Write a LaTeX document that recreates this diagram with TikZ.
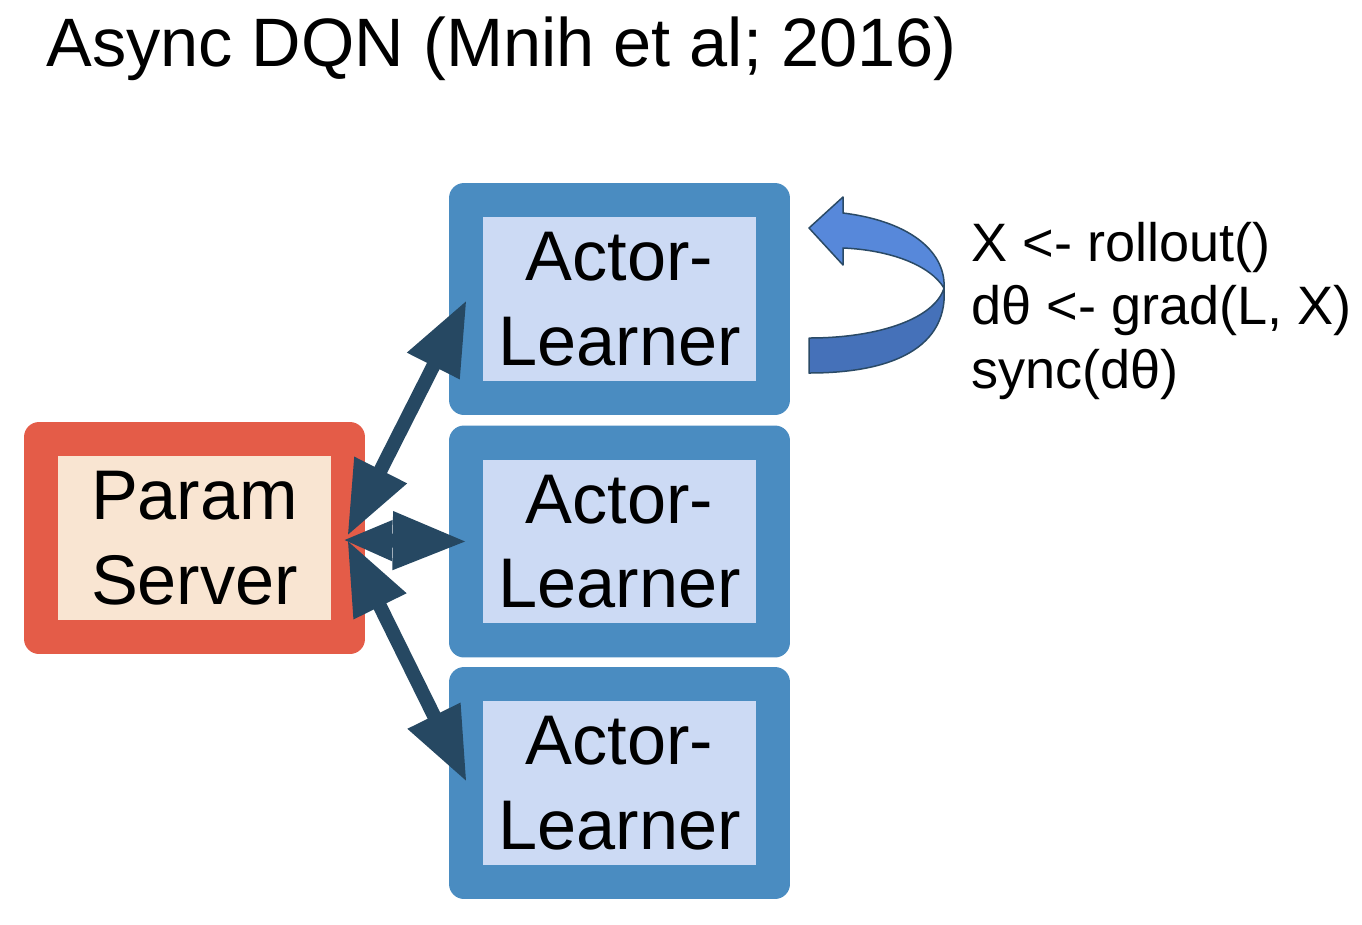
\documentclass[tikz,border=0pt]{standalone}
\usepackage{fontspec}
\setmainfont{Liberation Sans}
\usetikzlibrary{arrows.meta,calc}

\definecolor{psred}{HTML}{E45C48}
\definecolor{psfill}{HTML}{F9E5D2}
\definecolor{alblue}{HTML}{4A8CC1}
\definecolor{alfill}{HTML}{CCDAF4}
\definecolor{linkcol}{HTML}{264862}
\definecolor{looptop}{HTML}{5788DA}
\definecolor{loopbot}{HTML}{4571B9}
\definecolor{loopline}{HTML}{2A4A66}

\tikzset{
  outerbox/.style={rounded corners=0.3cm, minimum width=6.82cm, minimum height=4.64cm, inner sep=0pt},
  innerbox/.style={minimum width=5.45cm, minimum height=3.27cm, inner sep=0pt, align=center,
    font=\fontsize{40}{48}\selectfont},
  link/.style={linkcol, line width=0.28cm,
    {Triangle[length=1.48cm,width=1.1cm]}-{Triangle[length=1.48cm,width=1.1cm]}},
  shortlink/.style={linkcol, line width=0.28cm,
    {Triangle[length=1.0cm,width=0.74cm]}-{Triangle[length=1.48cm,width=1.1cm]}},
  loopline/.style={draw=loopline, line width=0.03cm, line join=round}
}

\begin{document}
\begin{tikzpicture}[x=0.02cm,y=-0.02cm]
\useasboundingbox (0,0) rectangle (1362,924);

% title
\node[anchor=base west, inner sep=0pt, font=\fontsize{39}{44}\selectfont] (title) at (46,66) {Async DQN (Mnih et al; 2016)};

% param server
\node[outerbox, fill=psred] (ps) at (194.5,538) {};
\node[innerbox, fill=psfill] (psin) at (ps) {Param\\Server};

% actor-learners
\node[outerbox, fill=alblue] (al1) at (619.5,299) {};
\node[innerbox, fill=alfill] (al1in) at (al1) {Actor-\\Learner};

\node[outerbox, fill=alblue] (al2) at (619.5,541.5) {};
\node[innerbox, fill=alfill] (al2in) at (al2) {Actor-\\Learner};

\node[outerbox, fill=alblue] (al3) at (619.5,783) {};
\node[innerbox, fill=alfill] (al3in) at (al3) {Actor-\\Learner};

% links
\draw[link] ($(ps.east)+(-18,-2)$) -- ($(al1.west)+(18,1)$);
\draw[link] ($(ps.east)+(-18,2)$) -- ($(al3.west)+(18,-1)$);
\draw[shortlink] ($(ps.east)+(-23,2)$) -- ($(al2.west)+(18,0)$);

% loop arrow
\fill[loopbot] (944,288) .. controls (948,340) and (905,373) .. (809,373) -- (809,338)
  .. controls (880,338) and (935,318) .. (944,288) -- cycle;
\draw[loopline] (944,288) .. controls (948,340) and (905,373) .. (809,373) -- (809,338)
  .. controls (880,338) and (935,318) .. (944,288);
\filldraw[loopline, fill=looptop] (843,213) .. controls (915,222) and (946,255) .. (944,288)
  .. controls (930,265) and (890,250) .. (843,248) -- (843,265) -- (809,228) -- (843,197) -- cycle;

% code
\node[anchor=north west, align=left, inner sep=0pt, font=\fontsize{30.8}{36}\selectfont] (code) at (971,222)
  {X <- rollout()\\dθ <- grad(L, X)\\sync(dθ)};
\end{tikzpicture}
\end{document}
